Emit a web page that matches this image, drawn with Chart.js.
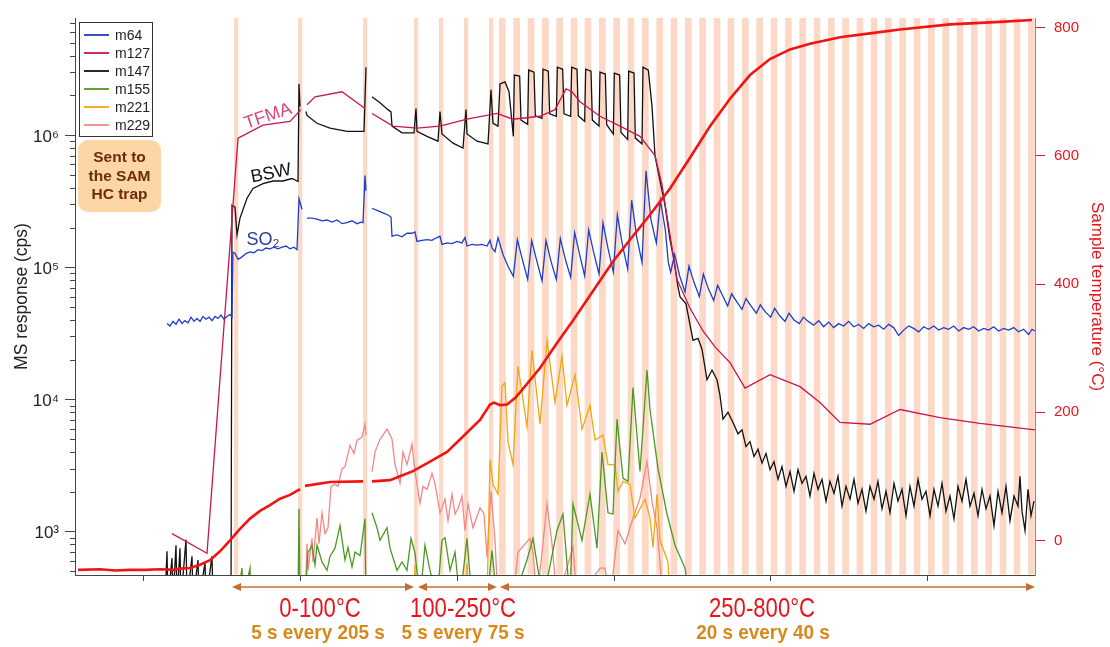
<!DOCTYPE html>
<html><head><meta charset="utf-8">
<script src="https://cdn.jsdelivr.net/npm/chart.js@4.4.1/dist/chart.umd.min.js"></script>
<style>html,body{margin:0;padding:0;background:#fff;}#wrap{width:1110px;height:647px;position:relative;}</style>
</head><body><div id="wrap"><canvas id="c"></canvas></div>
<script>
// ---- series names / ticks ----
const seriesNames = ['m64','m127','m147','m155','m221','m229'];
const seriesColors = ['#1e3ec8','#c81552','#111111','#4b9a1e','#f5a511','#f58787'];
const xTicks = [204, 675, 1146, 1617, 2087, 2556];
const yMajorTicks = [1e3, 1e4, 1e5, 1e6];
const tempTicks = [0, 200, 400, 600, 800];
// trap periods (time, s)
const narrowBands = [477, 669, 864, 1017, 1092, 1167, 1242];
const narrowWidth = 13;
const wideBands = [1272,1315,1358,1401,1444,1487,1529,1572,1615,1658,1701,1744,1787,1830,1873,1916,1958,2001,2044,2087,2130,2173,2216,2259,2302,2345,2387,2430,2473,2516,2559,2602,2645,2688,2731,2774,2816,2859];
const wideWidth = 20;

// ---- data: [time, cps] ----
const m64 = [
[276,37600],[285,36000],[294,39000],[303,37000],[312,40500],[321,37600],[330,39500],[339,38000],[348,42000],[357,39000],[366,41000],[375,39000],[384,42500],[393,40500],[402,42000],[411,39500],[420,42500],[429,41000],[438,43500],[447,40500],[456,42500],[465,44000],[471,42000],
[474,130000],[480,128000],[489,115000],[501,120000],[513,127000],[525,131000],[537,129000],[549,136000],[561,134000],[573,140000],[585,138000],[597,142000],[609,138000],[621,142000],[633,145000],[645,138000],[657,142000],[666,136000],[672,330000],[681,275000],
[686,null],
[696,236000],[711,236000],[726,232000],[741,225000],[756,228000],[771,220000],[786,228000],[801,214000],[816,218000],[831,225000],[846,214000],[858,220000],[864,218000],[870,494000],[873,380000],
[880,null],
[891,280000],[906,270000],[924,258000],[939,249000],[948,240000],[951,172000],[966,176000],[981,170000],[996,181000],[1011,181000],[1020,185000],[1026,157000],[1041,160000],[1056,162000],[1071,160000],[1086,168000],[1095,172000],[1101,149000],[1116,153000],[1131,151000],[1146,157000],[1161,153000],[1170,168000],[1176,145000],[1191,149000],[1206,147000],[1221,149000],[1236,145000],[1245,160000],[1251,140000],[1260,131000],[1269,168000],[1284,125000],[1299,102000],
[1315,85600],[1327,162000],[1342,115000],
[1358,81000],[1370,159000],[1385,113000],
[1401,79000],[1413,159000],[1428,111000],
[1444,81000],[1456,165000],[1471,115000],
[1487,84000],[1499,183000],[1514,125000],
[1529,86000],[1541,192000],[1556,130000],
[1572,89000],[1584,217000],[1599,139000],
[1615,92000],[1627,249000],[1642,149000],
[1658,97000],[1670,322000],[1685,170000],
[1701,109000],[1713,538000],[1728,228000],
[1744,153000],[1756,322000],[1771,192000],
[1780,109000],[1787,92000],[1799,125000],[1814,86000],[1830,65000],[1842,102000],[1857,77000],[1873,60000],[1885,89000],[1900,69000],[1916,56000],[1928,73000],[1943,61000],[1958,51000],[1970,63000],[1985,55000],[2001,48000],[2013,58000],[2028,51000],[2044,45000],[2056,52000],[2071,46000],[2087,42000],[2099,49000],[2114,43000],[2130,39000],[2142,45000],[2157,40000],[2173,37600],[2185,42000],[2200,39000],
[2216,36500],[2231,39500],[2246,35500],[2261,38500],[2276,35000],[2291,37500],[2306,36000],[2321,39000],[2336,35500],[2351,37000],[2366,34500],[2381,37500],[2396,35500],[2411,36500],[2426,34000],[2441,37000],[2456,35000],[2471,30500],[2486,33500],[2501,36000],[2516,34500],[2531,32500],[2546,35500],[2561,34000],[2576,36000],[2591,33500],[2606,35000],[2621,34000],[2636,36000],[2651,33000],[2666,35000],[2681,34000],[2696,35500],[2711,33000],[2726,34500],[2741,33500],[2756,35500],[2771,33000],[2786,34500],[2801,33500],[2816,35000],[2831,32500],[2846,34000],[2861,31000],[2871,34000],[2880,33000]
];

const m127 = [
[291,966],[396,686],[489,950000],[564,1190000],[645,1270000],[678,1560000],
[686,null],
[696,1700000],[720,1950000],[801,2130000],[870,1590000],
[880,null],
[891,1460000],[954,1170000],[1026,1130000],[1095,1170000],[1176,1320000],[1266,1460000],[1314,1320000],[1395,1390000],[1440,1560000],[1473,2240000],[1491,2130000],[1515,1790000],[1575,1390000],[1635,1170000],[1695,980000],[1740,700000],[1761,420000],[1785,176000],[1806,81000],[1845,49000],[1884,33000],[1920,25000],[1965,19000],[2010,12200],[2085,15400],[2175,12500],[2235,9500],[2295,6700],[2385,6500],[2475,8400],[2595,7300],[2715,6600],[2880,5900]
];

const m147 = [
[270,300],[276,710],[279,300],[291,630],[294,300],[303,790],[306,300],[315,750],[318,300],[333,870],[336,300],[351,650],[354,300],[369,610],[372,300],[390,580],[393,300],[411,650],[414,300],[468,300],
[471,295000],[480,285000],[486,176000],[495,236000],[516,333000],[534,395000],[564,430000],[594,450000],[624,450000],[651,470000],[669,446000],[672,2440000],[675,1650000],
[686,null],
[693,1510000],[696,1410000],[726,1230000],[765,1130000],[816,1070000],[867,1070000],[873,3270000],
[880,null],
[891,1950000],[915,1760000],[939,1560000],[948,1500000],[951,1170000],[981,1040000],[1017,1040000],[1023,1590000],[1026,1070000],[1056,980000],[1089,900000],[1095,1510000],[1101,1020000],[1134,870000],[1164,800000],[1173,1560000],[1176,1020000],[1206,900000],[1239,860000],[1248,2200000],[1254,1230000],[1269,1170000],[1275,2440000],[1290,2530000],[1302,2130000],
[1315,980000],[1318,2850000],[1334,2800000],[1338,1300000],
[1358,1210000],[1361,3110000],[1377,3000000],[1381,1400000],
[1401,1340000],[1404,3160000],[1420,3050000],[1424,1450000],
[1444,1390000],[1447,3270000],[1463,3150000],[1467,1450000],
[1487,1390000],[1490,3270000],[1506,3150000],[1510,1400000],
[1529,1270000],[1532,3160000],[1548,3050000],[1552,1300000],
[1572,1170000],[1575,3000000],[1591,2900000],[1595,1200000],
[1615,1020000],[1618,2950000],[1634,2850000],[1638,1050000],
[1658,930000],[1661,3050000],[1677,2950000],[1681,950000],
[1701,860000],[1704,3270000],[1720,3100000],
[1731,1650000],[1740,700000],[1755,450000],[1770,295000],[1785,162000],[1794,125000],[1809,71000],[1815,60000],[1833,53000],[1854,28000],[1869,29000],[1881,24000],[1896,14100],[1911,16700],[1926,14100],[1935,10700],[1944,7100],[1959,8000],[1974,6700],[1989,5500],[2001,5900],[2013,4400],[2025,4800],[2037,3700],[2049,4200],[2061,3300],[2073,3900],[2085,2950],
[2097,3390],[2109,2490],[2121,3110],[2133,2200],[2145,2850],[2157,2020],[2169,2950],[2181,2320],[2193,2620],[2205,1860],[2217,2760],[2229,2090],[2241,2490],[2253,1700],[2265,2400],[2277,1950],[2289,2620],[2301,1560],[2313,2200],[2325,1760],[2337,2490],[2349,1640],[2361,2090],[2373,1430],[2385,2200],[2397,1760],[2409,2400],[2421,1490],[2433,2020],[2445,1390],[2457,2320],[2469,1700],[2481,2090],[2493,1320],[2505,2200],[2517,1560],[2529,2490],[2541,1760],[2553,2020],[2565,1320],[2577,2090],[2589,1560],[2601,2320],[2613,1430],[2625,1860],[2637,1250],[2649,2200],[2661,1700],[2673,2490],[2685,1560],[2697,1950],[2709,1320],[2721,2090],[2733,1490],[2745,1860],[2757,1110],[2769,2020],[2781,1390],[2793,2200],[2805,1210],[2817,1860],[2829,1560],[2835,2620],[2841,1430],[2850,1020],[2859,2090],[2868,1320],[2877,1700]
];

const m155 = [
[486,300],[501,530],[504,300],[525,530],[528,300],
[669,300],[672,1490],[675,300],
[686,null],
[690,300],[699,700],[711,780],[720,560],[726,790],[741,590],[756,510],[765,650],[780,750],[795,1110],[810,610],[819,760],[831,540],[840,700],[855,660],[870,1250],[873,300],
[880,null],
[891,1390],[906,1070],[915,860],[936,1070],[945,750],[966,510],[981,590],[996,510],[1008,890],[1020,690],[1035,300],[1050,790],[1065,510],[1086,300],[1101,860],[1110,900],[1125,510],[1140,700],[1155,300],[1176,890],[1191,300],[1236,300],[1251,720],[1266,300],[1314,300],[1356,610],[1374,890],[1404,300],[1446,1020],[1464,1360],[1485,300],[1494,1620],[1521,860],[1545,1920],[1566,750],[1581,4000],[1599,1390],[1614,1360],[1626,7100],[1644,2530],[1659,2400],[1674,12300],[1695,2850],[1716,16700],[1725,8400],[1749,3000],[1776,1360],[1800,790],[1830,530],[1845,300]
];

const m221 = [
[1017,300],[1020,560],[1023,300],[1173,300],[1176,577],[1179,300],[1236,300],[1245,3510],[1254,2280],[1269,1920],[1281,12700],[1290,13400],[1299,4780],[1314,3220],[1329,17900],[1356,6200],[1371,23600],[1395,6500],[1416,28100],[1440,9500],[1461,21300],[1476,9000],[1500,15400],[1521,5970],[1545,9000],[1560,4940],[1584,5380],[1599,3220],[1620,3220],[1629,2020],[1644,2400],[1665,2280],[1680,1270],[1710,1760],[1725,1270],[1734,760],[1746,1920],[1755,860],[1779,590],[1785,300]
];

const m229 = [
[690,300],[696,810],[699,510],[711,890],[714,590],[726,1270],[732,810],[741,1390],[750,966],[759,1070],[768,2200],[780,2280],[789,2200],[801,3000],[810,3110],[825,4500],[837,3900],[846,4900],[861,5200],[870,6500],[873,5400],
[880,null],
[891,2850],[900,4000],[915,5000],[936,5970],[951,5000],[960,3220],[975,2320],[984,4000],[996,3220],[1011,4600],[1020,2850],[1035,1640],[1044,2200],[1056,2090],[1071,2760],[1080,2320],[1095,1390],[1110,1760],[1119,1210],[1131,1920],[1140,1360],[1149,1490],[1161,1860],[1170,1020],[1179,1620],[1194,1070],[1215,1510],[1227,1360],[1236,640],[1248,2020],[1260,860],[1269,300],[1314,300],[1329,700],[1365,890],[1374,690],[1386,300],[1416,1620],[1431,810],[1446,300],[1494,760],[1506,300],[1575,530],[1590,530],[1605,300],[1629,1020],[1650,810],[1674,1270],[1695,1790],[1716,3390],[1731,1700],[1746,1070],[1755,577],[1764,300]
];

// sample temperature [time, °C]
const temperature = [
[9,-46],[75,-45],[120,-47],[165,-46],[210,-46],[255,-45],[300,-46],[315,-44],[345,-43],[375,-38],[405,-31],[435,-17],[465,0],[495,18],[525,34],[555,46],[585,55],[615,65],[645,71],[675,80],
[683,null],
[690,85],[765,91],[864,92],
[878,null],
[891,92],[945,94],[975,100],[1014,108],[1065,123],[1116,138],[1164,162],[1215,188],[1245,212],[1257,215],[1275,211],[1296,212],[1320,222],[1335,231],[1395,269],[1446,308],[1494,343],[1554,389],[1614,435],[1665,469],[1725,508],[1785,549],[1845,597],[1905,646],[1965,689],[2025,726],[2085,751],[2145,766],[2205,775],[2295,785],[2385,791],[2475,797],[2625,805],[2775,809],[2871,812]
];

const seriesData = [m64, m127, m147, m155, m221, m229];
const supers = {3:'\u00B3',4:'\u2074',5:'\u2075',6:'\u2076'};

Chart.defaults.font.family = "'Liberation Sans', Arial, sans-serif";

const toXY = arr => arr.map(p => ({x: p[0], y: p[1]}));
const datasets = [{
  label: 'Sample temperature', data: toXY(temperature), yAxisID: 'yT',
  borderColor: '#f01414', borderWidth: 2.6, pointRadius: 0, spanGaps: false, fill: false
}];
seriesNames.forEach((n, i) => datasets.push({
  label: n, data: toXY(seriesData[i]), yAxisID: 'y',
  borderColor: seriesColors[i], borderWidth: 1.3, pointRadius: 0, spanGaps: false, fill: false
}));

const overlay = {
  id: 'overlay',
  beforeDatasetsDraw(chart) {
    const {ctx, chartArea: a, scales: {x}} = chart;
    ctx.save();
    ctx.beginPath(); ctx.rect(a.left, a.top, a.right - a.left, a.bottom - a.top - 0.5); ctx.clip();
    ctx.fillStyle = '#fcd9c6';
    const band = (t, w) => { const x0 = x.getPixelForValue(t), x1 = x.getPixelForValue(t + w); ctx.fillRect(x0, a.top, x1 - x0, a.bottom - a.top); };
    narrowBands.forEach(t => band(t, narrowWidth));
    wideBands.forEach(t => band(t, wideWidth));
    ctx.restore();
  },
  afterDraw(chart) {
    const {ctx, chartArea: a, scales: {x, y}} = chart;
    ctx.save();
    // minor log ticks
    ctx.strokeStyle = '#444'; ctx.lineWidth = 1;
    for (let e = 2; e <= 6; e++) for (let m = 2; m <= 9; m++) {
      const v = m * Math.pow(10, e);
      if (v < y.min || v > y.max) continue;
      const py = Math.round(y.getPixelForValue(v)) + 0.5;
      ctx.beginPath(); ctx.moveTo(a.left - 5, py); ctx.lineTo(a.left, py); ctx.stroke();
    }
    // bottom axis with breaks
    ctx.strokeStyle = '#444';
    const by = Math.round(a.bottom) + 0.5;
    const segs = [[0, 681], [693, 876], [888, 2880]];
    segs.forEach(s => { ctx.beginPath(); ctx.moveTo(x.getPixelForValue(s[0]), by); ctx.lineTo(x.getPixelForValue(s[1]), by); ctx.stroke(); });
    // right axis line
    ctx.strokeStyle = '#f06060';
    ctx.beginPath(); ctx.moveTo(a.right + 0.5, a.top); ctx.lineTo(a.right + 0.5, a.bottom); ctx.stroke();

    // legend
    const lx = a.left + 4, ly = a.top + 4;
    ctx.fillStyle = '#fff'; ctx.fillRect(lx, ly, 73, 114);
    ctx.strokeStyle = '#333'; ctx.lineWidth = 1; ctx.strokeRect(lx + 0.5, ly + 0.5, 73, 114);
    ctx.font = "14px 'Liberation Sans', Arial, sans-serif"; ctx.textBaseline = 'middle'; ctx.textAlign = 'left';
    seriesNames.forEach((n, i) => {
      const yy = ly + 13 + i * 18;
      ctx.strokeStyle = seriesColors[i]; ctx.lineWidth = 1.8;
      ctx.beginPath(); ctx.moveTo(lx + 5, yy); ctx.lineTo(lx + 30, yy); ctx.stroke();
      ctx.fillStyle = '#222'; ctx.fillText(n, lx + 36, yy + 1);
    });

    // SAM box
    const bx = a.left + 3, byy = 140, bw = 83, bh = 72, r = 10;
    ctx.fillStyle = '#fdd6a6';
    ctx.beginPath(); ctx.roundRect(bx, byy, bw, bh, r); ctx.fill();
    ctx.fillStyle = '#6b2a0e'; ctx.font = "bold 15.5px 'Liberation Sans', Arial, sans-serif"; ctx.textAlign = 'center';
    ['Sent to', 'the SAM', 'HC trap'].forEach((s, i) => ctx.fillText(s, bx + bw / 2, 158 + i * 18.5));

    // curve labels
    const rot = (txt, t, v, ang, color) => {
      ctx.save(); ctx.translate(x.getPixelForValue(t), y.getPixelForValue(v)); ctx.rotate(ang);
      ctx.font = "18px 'Liberation Sans', Arial, sans-serif"; ctx.fillStyle = color; ctx.textAlign = 'center'; ctx.textBaseline = 'middle';
      ctx.fillText(txt, 0, 0); ctx.restore();
    };
    rot('TFMA', 579, 1390000, -0.33, '#d9467a');
    rot('BSW', 588, 512000, -0.2, '#111');
    rot('SO\u2082', 564, 162000, 0, '#2b3a9c');

    // bottom arrows
    const ay = 587, col = '#c46e34';
    ctx.strokeStyle = col; ctx.fillStyle = col; ctx.lineWidth = 1.6;
    const head = (px, dir) => { ctx.beginPath(); ctx.moveTo(px, ay); ctx.lineTo(px - dir * 9, ay - 4); ctx.lineTo(px - dir * 9, ay + 4); ctx.closePath(); ctx.fill(); };
    [[471, 1017], [1029, 1266], [1275, 2880]].forEach(r2 => {
      const x0 = x.getPixelForValue(r2[0]), x1 = x.getPixelForValue(r2[1]);
      ctx.beginPath(); ctx.moveTo(x0 + 5, ay); ctx.lineTo(x1 - 5, ay); ctx.stroke();
      head(x0, -1); head(x1, 1);
    });
    const cond = (txt, t, base, font, color, sx) => {
      ctx.save(); ctx.translate(x.getPixelForValue(t), base); ctx.scale(sx, 1);
      ctx.font = font; ctx.fillStyle = color; ctx.textAlign = 'center'; ctx.textBaseline = 'alphabetic';
      ctx.fillText(txt, 0, 0); ctx.restore();
    };
    const redFont = "28px 'Liberation Sans', Arial, sans-serif";
    const orFont = "bold 21px 'Liberation Sans', Arial, sans-serif";
    cond('0-100\u00B0C', 735, 617, redFont, '#e8141c', 0.79);
    cond('100-250\u00B0C', 1164, 617, redFont, '#e8141c', 0.79);
    cond('250-800\u00B0C', 2061, 617, redFont, '#e8141c', 0.79);
    cond('5 s every 205 s', 729, 639, orFont, '#d8891c', 0.9);
    cond('5 s every 75 s', 1164, 639, orFont, '#d8891c', 0.9);
    cond('20 s every 40 s', 2064, 639, orFont, '#d8891c', 0.9);
    ctx.restore();
  }
};

new Chart(document.getElementById('c'), {
  type: 'line',
  data: {datasets},
  options: {
    responsive: true, maintainAspectRatio: false, animation: false,
    layout: {padding: {top: 10, left: 0, right: 0, bottom: 0}},
    plugins: {legend: {display: false}, tooltip: {enabled: false}},
    elements: {point: {radius: 0}, line: {tension: 0}},
    scales: {
      x: {
        type: 'linear', min: 0, max: 2880, position: 'bottom',
        afterBuildTicks: s => { s.ticks = xTicks.map(v => ({value: v})); },
        afterFit: s => { s.height = 72; },
        grid: {drawOnChartArea: false, drawTicks: true, tickLength: 6, color: '#444'},
        border: {display: true, color: '#444', width: 1},
        ticks: {callback: () => '', padding: 0, font: {size: 2}}
      },
      y: {
        type: 'logarithmic', position: 'left', min: 470, max: 7.7e6,
        afterBuildTicks: s => { s.ticks = yMajorTicks.map(v => ({value: v})); },
        afterFit: s => { s.width = 75; },
        grid: {drawOnChartArea: false, drawTicks: true, tickLength: 10, color: '#444'},
        border: {display: true, color: '#444', width: 1},
        ticks: {
          autoSkip: false, padding: 6, labelOffset: 2, color: '#222', font: {size: 17},
          callback: v => '10' + (supers[Math.round(Math.log10(v))] || '')
        },
        title: {display: true, text: 'MS response (cps)', color: '#222', font: {size: 17.5}, padding: {top: 12, bottom: 0}}
      },
      yT: {
        type: 'linear', position: 'right', min: -54, max: 815,
        afterBuildTicks: s => { s.ticks = tempTicks.map(v => ({value: v})); },
        afterFit: s => { s.width = 75; },
        grid: {drawOnChartArea: false, drawTicks: true, tickLength: 10, color: '#e8141c'},
        border: {display: true, color: '#f06060', width: 1},
        ticks: {autoSkip: false, padding: 9, color: '#e8141c', font: {size: 15}},
        title: {display: true, text: 'Sample temperature (\u00B0C)', color: '#e8141c', font: {size: 17}, padding: {top: 3, bottom: 0}}
      }
    }
  },
  plugins: [overlay]
});
</script>
</body></html>
